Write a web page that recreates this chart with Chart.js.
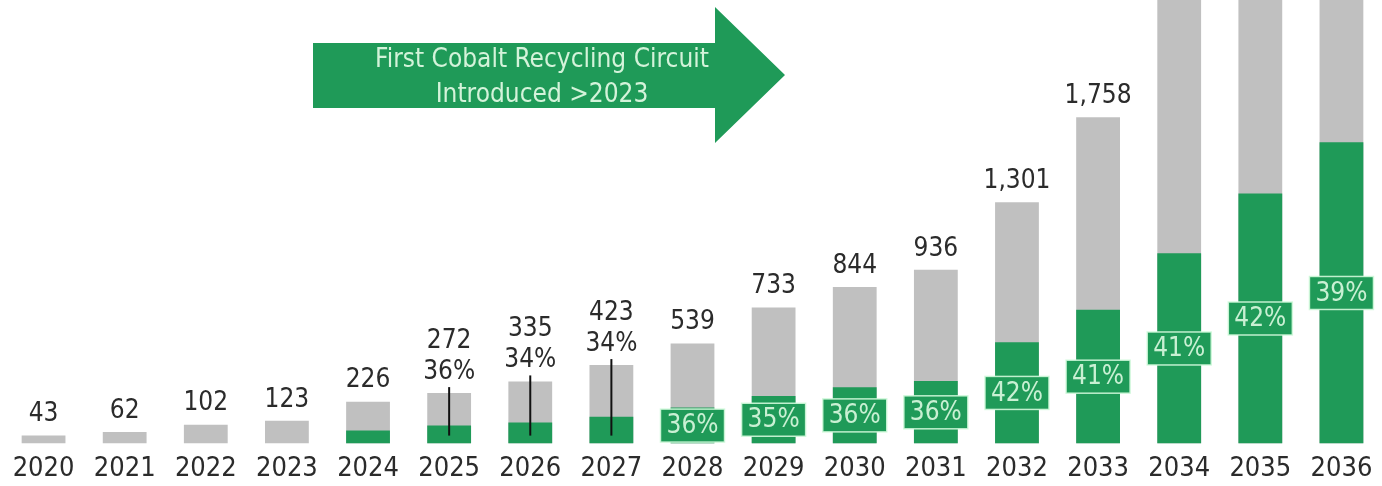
<!DOCTYPE html>
<html>
<head>
<meta charset="utf-8">
<script src="https://cdn.jsdelivr.net/npm/chart.js@4"></script>
<style>
  html, body { margin: 0; padding: 0; background: #ffffff; overflow: hidden; }
  #wrap { width: 1382px; height: 496px; }
</style>
</head>
<body>
<div id="wrap"><canvas id="cobaltChart"></canvas></div>
<script>
// ---------------------------------------------
// DATA
// ---------------------------------------------
const years = ['2020', '2021', '2022', '2023', '2024', '2025', '2026', '2027', '2028',
               '2029', '2030', '2031', '2032', '2033', '2034', '2035', '2036'];

// total demand (last three run off the top, estimated)
const totals = [43, 62, 102, 123, 226, 272, 335, 423, 539, 733, 844, 936, 1301, 1758, 2500, 3210, 4160];

// recycled share (green part)
const recycled = [0, 0, 0, 0, 70, 98, 114, 144, 194, 257, 304, 337, 546, 721, 1025, 1348, 1623];

// percentage labels ('' = none)
const shareLabels = ['', '', '', '', '', '36%', '34%', '34%', '36%', '35%', '36%', '36%',
                     '42%', '41%', '41%', '42%', '39%'];

// bars whose total is printed above
const showTotal = [true, true, true, true, true, true, true, true, true, true, true, true,
                   true, true, false, false, false];

const arrowText = ['First Cobalt Recycling Circuit', 'Introduced >2023'];

const GREEN = '#1f9a58';
const GREY = '#c0c0c0';
const FONT = '"DejaVu Sans Condensed", "DejaVu Sans", Verdana, sans-serif';

// ---------------------------------------------
// LABELS + ARROW
// ---------------------------------------------
const labelPlugin = {
    id: 'labelPlugin',
    afterDatasetsDraw(chart) {
        const ctx = chart.ctx;
        const greenMeta = chart.getDatasetMeta(0);
        const greyMeta = chart.getDatasetMeta(1);

        ctx.save();
        ctx.textAlign = 'center';
        ctx.textBaseline = 'middle';

        years.forEach(function (y, i) {
            const grey = greyMeta.data[i];
            const green = greenMeta.data[i];
            const x = grey.x;
            const top = grey.y;

            if (i >= 5 && i <= 7) {
                // percentage above the bar with a leader line into the green part
                ctx.fillStyle = '#2b2b2b';
                ctx.font = '26px ' + FONT;
                ctx.fillText(shareLabels[i], x, top - 21);
                ctx.fillText(totals[i].toLocaleString('en-US'), x, top - 52);
                ctx.strokeStyle = '#111111';
                ctx.lineWidth = 2;
                ctx.beginPath();
                ctx.moveTo(x, top - 6);
                ctx.lineTo(x, green.base - 8);
                ctx.stroke();
            } else if (showTotal[i]) {
                ctx.fillStyle = '#2b2b2b';
                ctx.font = '26px ' + FONT;
                ctx.fillText(totals[i].toLocaleString('en-US'), x, top - 21);
            }

            if (i >= 8) {
                // boxed percentage centred on the green part
                const cy = (green.y + green.base) / 2;
                const bw = 64, bh = 33;
                ctx.fillStyle = GREEN;
                ctx.strokeStyle = 'rgba(210,250,220,0.9)';
                ctx.lineWidth = 1.5;
                ctx.fillRect(x - bw / 2, cy - bh / 2, bw, bh);
                ctx.strokeRect(x - bw / 2, cy - bh / 2, bw, bh);
                ctx.fillStyle = '#c9f0d3';
                ctx.font = '26px ' + FONT;
                ctx.fillText(shareLabels[i], x, cy + 1);
            }
        });

        // arrow callout
        ctx.fillStyle = GREEN;
        ctx.beginPath();
        ctx.moveTo(313, 43);
        ctx.lineTo(715, 43);
        ctx.lineTo(715, 7);
        ctx.lineTo(785, 75);
        ctx.lineTo(715, 143);
        ctx.lineTo(715, 108);
        ctx.lineTo(313, 108);
        ctx.closePath();
        ctx.fill();

        ctx.fillStyle = '#d4f3da';
        ctx.font = '26px ' + FONT;
        ctx.fillText(arrowText[0], 542, 60);
        ctx.fillText(arrowText[1], 542, 95);
        ctx.restore();
    }
};

new Chart(document.getElementById('cobaltChart'), {
    type: 'bar',
    data: {
        labels: years,
        datasets: [
            {
                label: 'Recycled',
                data: recycled,
                backgroundColor: GREEN,
                borderWidth: 0,
                grouped: false
            },
            {
                label: 'Total',
                data: totals,
                backgroundColor: GREY,
                borderWidth: 0,
                grouped: false
            }
        ]
    },
    options: {
        responsive: true,
        maintainAspectRatio: false,
        animation: false,
        devicePixelRatio: 1,
        categoryPercentage: 0.6,
        barPercentage: 0.9,
        layout: { padding: { left: 3, right: 0, top: 0, bottom: 2 } },
        plugins: {
            legend: { display: false },
            tooltip: { enabled: false }
        },
        scales: {
            x: {
                grid: { display: false, drawTicks: false },
                border: { display: false },
                ticks: {
                    color: '#2b2b2b',
                    padding: 9,
                    font: { family: FONT, size: 27 },
                    maxRotation: 0,
                    autoSkip: false
                }
            },
            y: {
                display: false,
                min: 0,
                max: 2390
            }
        }
    },
    plugins: [labelPlugin]
});
</script>
</body>
</html>
